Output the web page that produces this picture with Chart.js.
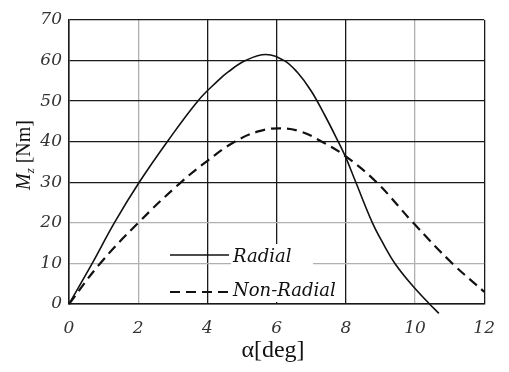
<!DOCTYPE html>
<html>
<head>
<meta charset="utf-8">
<script src="https://cdn.jsdelivr.net/npm/chart.js@4.4.0/dist/chart.umd.min.js"></script>
<style>
  html, body { margin: 0; padding: 0; background: #fff; }
  #wrap { width: 509px; height: 372px; }
</style>
</head>
<body>
<div id="wrap"><canvas id="chart"></canvas></div>
<script>
// values (alpha in deg, Mz in Nm)
const radialAlpha = [0, 0.67, 1.31, 2.03, 2.84, 3.72, 4.3, 4.6, 5.1, 5.69, 6.22, 6.6, 7.0, 7.4, 7.73, 7.98, 8.29, 8.77, 9.1, 9.42, 9.9, 10.42, 10.69];
const radialMz = [0, 10, 20, 30, 40, 50, 55, 57.2, 60, 61.5, 60, 57.1, 52.5, 46.4, 40.9, 36.5, 30, 20, 14.6, 10, 4.8, 0, -2.3];
const nonRadialAlpha = [0, 0.9, 2.0, 3.17, 4.0, 4.79, 5.5, 6.12, 6.7, 7.31, 7.98, 8.89, 9.95, 11.08, 12.0, 12.57];
const nonRadialMz = [0, 10, 20, 29.5, 35.3, 40, 42.6, 43.3, 42.5, 40, 36.5, 30, 20, 10, 3, -1.5];
const xTicks = [0, 2, 4, 6, 8, 10, 12];
const yTicks = [0, 10, 20, 30, 40, 50, 60, 70];
const seriesNames = ['Radial', 'Non-Radial'];

const toPoints = (xs, ys) => xs.map((x, i) => ({ x: x, y: ys[i] }));

const serif = '"Liberation Serif", "DejaVu Serif", serif';
const wideSerif = '"DejaVu Serif", serif';
const darkGrid = '#1a1a1a';
const lightGrid = '#b0b0b0';

// axis titles and the inside legend
const decorations = {
    id: 'decorations',
    beforeDatasetsDraw(chart) {
        const ctx = chart.ctx;
        ctx.save();
        // white patch behind legend text
        ctx.fillStyle = '#fff';
        ctx.fillRect(231, 244, 82, 58);
        ctx.restore();
    },
    afterDraw(chart) {
        const ctx = chart.ctx;
        ctx.save();
        ctx.fillStyle = '#111';
        ctx.strokeStyle = '#111';

        // legend
        ctx.lineWidth = 1.6;
        ctx.beginPath();
        ctx.moveTo(170, 255);
        ctx.lineTo(229, 255);
        ctx.stroke();
        ctx.lineWidth = 2.2;
        ctx.setLineDash([10, 6]);
        ctx.beginPath();
        ctx.moveTo(170, 292);
        ctx.lineTo(229, 292);
        ctx.stroke();
        ctx.setLineDash([]);
        ctx.font = 'italic 18px ' + wideSerif;
        ctx.textAlign = 'left';
        ctx.textBaseline = 'alphabetic';
        ctx.fillText(seriesNames[0], 233, 262);
        ctx.fillText(seriesNames[1], 233, 296);

        // x title
        ctx.font = '24px ' + serif;
        ctx.textAlign = 'center';
        ctx.fillText('\u03b1[deg]', 273, 357);

        // y title, rotated
        ctx.translate(30, 155);
        ctx.rotate(-Math.PI / 2);
        ctx.textAlign = 'left';
        const mW = (ctx.font = 'italic 20px ' + serif, ctx.measureText('M').width);
        const zW = (ctx.font = 'italic 13px ' + serif, ctx.measureText('z').width);
        ctx.font = '20px ' + serif;
        const restW = ctx.measureText(' [Nm]').width;
        let x = -(mW + zW + restW) / 2;
        ctx.font = 'italic 20px ' + serif;
        ctx.fillText('M', x, 0);
        x += mW;
        ctx.font = 'italic 13px ' + serif;
        ctx.fillText('z', x, 4);
        x += zW;
        ctx.font = '20px ' + serif;
        ctx.fillText(' [Nm]', x, 0);
        ctx.restore();
    }
};

const chartElement = document.getElementById('chart').getContext('2d');
const chart = new Chart(chartElement, {
    type: 'line',
    data: {
        datasets: [{
            label: seriesNames[0],
            data: toPoints(radialAlpha, radialMz),
            borderColor: '#111',
            borderWidth: 1.6,
            pointRadius: 0,
            tension: 0.4,
            clip: false
        }, {
            label: seriesNames[1],
            data: toPoints(nonRadialAlpha, nonRadialMz),
            borderColor: '#111',
            borderWidth: 2.2,
            borderDash: [10, 6],
            pointRadius: 0,
            tension: 0.4,
            clip: false
        }]
    },
    options: {
        responsive: true,
        maintainAspectRatio: false,
        animation: false,
        layout: {
            padding: { top: 20, right: 18, left: 0, bottom: 0 }
        },
        plugins: {
            legend: { display: false },
            tooltip: { enabled: false }
        },
        scales: {
            x: {
                type: 'linear',
                min: 0,
                max: 12,
                afterBuildTicks: (scale) => { scale.ticks = xTicks.map(v => ({ value: v })); },
                afterFit: (scale) => { scale.height = 68; },
                border: { color: darkGrid, width: 1.5 },
                grid: {
                    color: (c) => (c.tick && (c.tick.value === 2 || c.tick.value === 10)) ? lightGrid : darkGrid,
                    lineWidth: 1.3,
                    drawTicks: false
                },
                ticks: {
                    color: '#333',
                    padding: 14,
                    font: { family: wideSerif, size: 17, style: 'italic' }
                }
            },
            y: {
                min: 0,
                max: 70,
                afterBuildTicks: (scale) => { scale.ticks = yTicks.map(v => ({ value: v })); },
                afterFit: (scale) => { scale.width = 69; },
                border: { color: darkGrid, width: 1.5 },
                grid: {
                    color: (c) => (c.tick && (c.tick.value === 10 || c.tick.value === 20)) ? lightGrid : darkGrid,
                    lineWidth: 1.3,
                    drawTicks: false
                },
                ticks: {
                    color: '#333',
                    padding: 7,
                    font: { family: wideSerif, size: 17, style: 'italic' }
                }
            }
        }
    },
    plugins: [decorations]
});
</script>
</body>
</html>
